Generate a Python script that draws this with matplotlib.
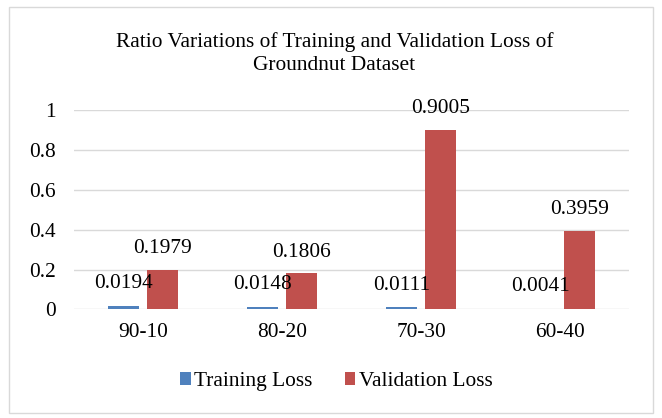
import matplotlib.pyplot as plt
import numpy as np
from matplotlib.patches import Rectangle

plt.rcParams['font.family'] = ['Liberation Serif', 'DejaVu Serif']

# data
splits = ['90-10', '80-20', '70-30', '60-40']
training_loss = [0.0194, 0.0148, 0.0111, 0.0041]
validation_loss = [0.1979, 0.1806, 0.9005, 0.3959]
yticks = [0, 0.2, 0.4, 0.6, 0.8, 1]
ytick_labels = ['0', '0.2', '0.4', '0.6', '0.8', '1']

blue = '#4F81BD'
red = '#C0504D'
grid_col = '#D9D9D9'
fs = 15.4

fig = plt.figure(figsize=(6.62, 4.18), dpi=100)
# outer chart border
fig.patches.append(Rectangle((0.014, 0.012), 0.972, 0.972, transform=fig.transFigure,
                             fill=False, edgecolor='#D9D9D9', linewidth=1.0))

ax = fig.add_axes([0.1115, 0.2596, 0.8394, 0.4773])
x = np.arange(len(splits))
w = 0.223
off = 0.1404
b1 = ax.bar(x - off, training_loss, w, color=blue, label='Training Loss', zorder=3)
b2 = ax.bar(x + off, validation_loss, w, color=red, label='Validation Loss', zorder=3)

for xi, v in zip(x, training_loss):
    ax.annotate(f'{v:.4f}', (xi - off, v), xytext=(0, 12.5), textcoords='offset points',
                ha='center', va='baseline', fontsize=fs, zorder=4)
for xi, v in zip(x, validation_loss):
    ax.annotate(f'{v:.4f}', (xi + off, v), xytext=(0, 12), textcoords='offset points',
                ha='center', va='baseline', fontsize=fs, zorder=4)

ax.set_xlim(-0.5, len(splits) - 0.5)
ax.set_ylim(0, 1)
ax.set_yticks(yticks)
ax.set_yticklabels(ytick_labels, fontsize=fs)
ax.set_xticks(x)
ax.set_xticklabels(splits, fontsize=fs)
ax.tick_params(length=0, pad=10)
ax.tick_params(axis='y', pad=13)
ax.grid(axis='y', color=grid_col, linewidth=1.0, zorder=0)
for s in ax.spines.values():
    s.set_visible(False)

# title as two lines
fig.text(0.505, 0.900, 'Ratio Variations of Training and Validation Loss of',
         ha='center', va='center', fontsize=fs)
fig.text(0.505, 0.843, 'Groundnut Dataset', ha='center', va='center', fontsize=fs)

fig.legend(handles=[b1, b2], loc='center', bbox_to_anchor=(0.508, 0.087), ncol=2,
           frameon=False, fontsize=fs, handlelength=0.5, handleheight=0.5,
           handletextpad=0.15, columnspacing=1.5)

fig.savefig('out.png', dpi=100)
